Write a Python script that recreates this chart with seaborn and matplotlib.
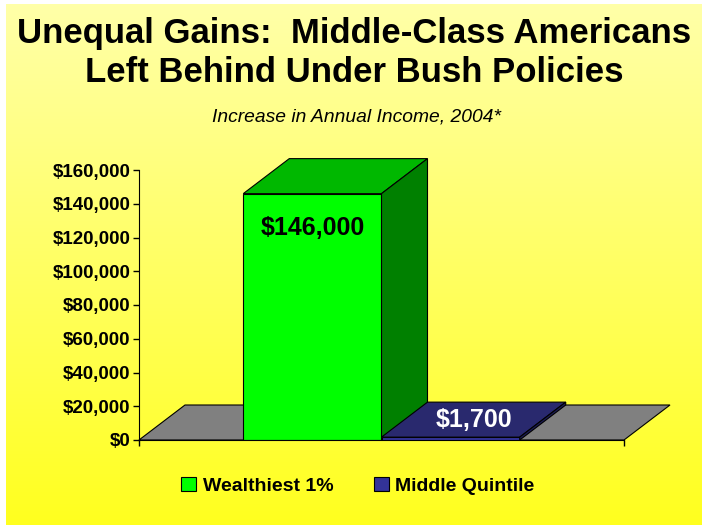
import numpy as np
import pandas as pd
import matplotlib.pyplot as plt
from matplotlib.patches import Polygon
from matplotlib.ticker import FuncFormatter
import seaborn as sns

# Data
category = ['Increase in Annual Income, 2004']
series = ['Wealthiest 1%', 'Middle Quintile']
values = [146000, 1700]

front_colors = ['#00FF00', '#333399']
top_colors = ['#00B800', '#29296E']
side_colors = ['#008000', '#1C1C55']
label_colors = ['black', 'white']

df = pd.DataFrame({'cat': category * len(series), 'series': series, 'value': values})

sns.set_style('white')
plt.rcParams['font.family'] = ['Liberation Sans', 'DejaVu Sans']
plt.rcParams['text.color'] = 'black'
plt.rcParams['xtick.color'] = 'black'
plt.rcParams['ytick.color'] = 'black'

W, H = 702, 525
fig = plt.figure(figsize=(W / 100, H / 100), dpi=100)
fig.patch.set_facecolor('white')

# yellow gradient background
bg = fig.add_axes([6 / W, 0, 1 - 6 / W, 1 - 4 / H])
grad = np.linspace(0, 1, 256).reshape(-1, 1)
top_rgb = np.array([1.0, 1.0, 0.66])
bot_rgb = np.array([1.0, 1.0, 0.12])
img = top_rgb * (1 - grad[..., None]) + bot_rgb * grad[..., None]
bg.imshow(img, aspect='auto', extent=[0, 1, 0, 1])
bg.axis('off')

# plot area
x0, y0, pw, ph = 139, 440, 485, 270
ax = fig.add_axes([x0 / W, (H - y0) / H, pw / W, ph / H])
ax.set_facecolor('none')

sns.barplot(data=df, x='cat', y='value', hue='series', palette=front_colors,
            width=0.57, edgecolor='black', linewidth=0.8, saturation=1,
            ax=ax, legend=True)

ax.set_xlim(-0.5, 0.5)
ax.set_ylim(0, 160000)
ax.set_yticks(np.arange(0, 160001, 20000))
ax.yaxis.set_major_formatter(FuncFormatter(lambda v, p: f'${int(v):,}'))
ax.set_xticks([-0.5, 0.5])
ax.set_xticklabels(['', ''])
ax.set_xlabel('')
ax.set_ylabel('')
ax.tick_params(axis='y', left=True, direction='out', length=4, width=1,
               labelsize=13.5, pad=2, colors='black')
ax.tick_params(axis='x', bottom=True, direction='out', length=4, width=1, colors='black')
for lab in ax.get_yticklabels():
    lab.set_fontweight('bold')
for s in ['top', 'right']:
    ax.spines[s].set_visible(False)
ax.spines['left'].set_color('black')
ax.spines['bottom'].set_color('black')

# depth offsets in data units
dx = 46 / pw * 1.0
dy = 35 / ph * 160000

# floor
floor = Polygon([(-0.5, 0), (0.5, 0), (0.5 + dx, dy), (-0.5 + dx, dy)],
                closed=True, facecolor='#808080', edgecolor='black',
                linewidth=0.8, zorder=0.5, clip_on=False)
ax.add_patch(floor)

bars = [p for p in ax.patches if isinstance(p, plt.Rectangle) and p.get_height() > 0]
bars = sorted(bars, key=lambda p: p.get_x())
for i, b in enumerate(bars):
    x, w, h = b.get_x(), b.get_width(), b.get_height()
    z = 2 + i * 2
    b.set_zorder(z)
    top = Polygon([(x, h), (x + w, h), (x + w + dx, h + dy), (x + dx, h + dy)],
                  closed=True, facecolor=top_colors[i], edgecolor='black',
                  linewidth=0.8, zorder=z, clip_on=False)
    side = Polygon([(x + w, 0), (x + w + dx, dy), (x + w + dx, h + dy), (x + w, h)],
                   closed=True, facecolor=side_colors[i], edgecolor='black',
                   linewidth=0.8, zorder=z, clip_on=False)
    ax.add_patch(top)
    ax.add_patch(side)
    label = f'${values[i]:,}'
    if h > 20000:
        ax.text(x + w / 2, h * 0.86, label, ha='center', va='center',
                fontsize=18, fontweight='bold', color=label_colors[i], zorder=10)
    else:
        ax.text(x + w / 2 + dx / 2, h + dy / 2, label, ha='center', va='center',
                fontsize=18, fontweight='bold', color=label_colors[i], zorder=10)

# legend
handles, labels = ax.get_legend_handles_labels()
ax.legend_.remove()
leg = fig.legend(handles, labels, loc='center', bbox_to_anchor=(358 / W, 1 - 486 / H),
                 ncol=2, frameon=False, handlelength=0.75, handleheight=0.75,
                 handletextpad=0.35, columnspacing=2.1,
                 prop={'size': 14, 'weight': 'bold'})
for hd in leg.legend_handles:
    hd.set_edgecolor('black')
    hd.set_linewidth(0.8)

# titles
fig.text(354 / W, 1 - 33 / H, 'Unequal Gains:  Middle-Class Americans',
         ha='center', va='center', fontsize=25, fontweight='bold')
fig.text(354 / W, 1 - 73 / H, 'Left Behind Under Bush Policies',
         ha='center', va='center', fontsize=25, fontweight='bold')
fig.text(356 / W, 1 - 117 / H, 'Increase in Annual Income, 2004*',
         ha='center', va='center', fontsize=13.9, style='italic')

fig.savefig('out.png', dpi=100)
